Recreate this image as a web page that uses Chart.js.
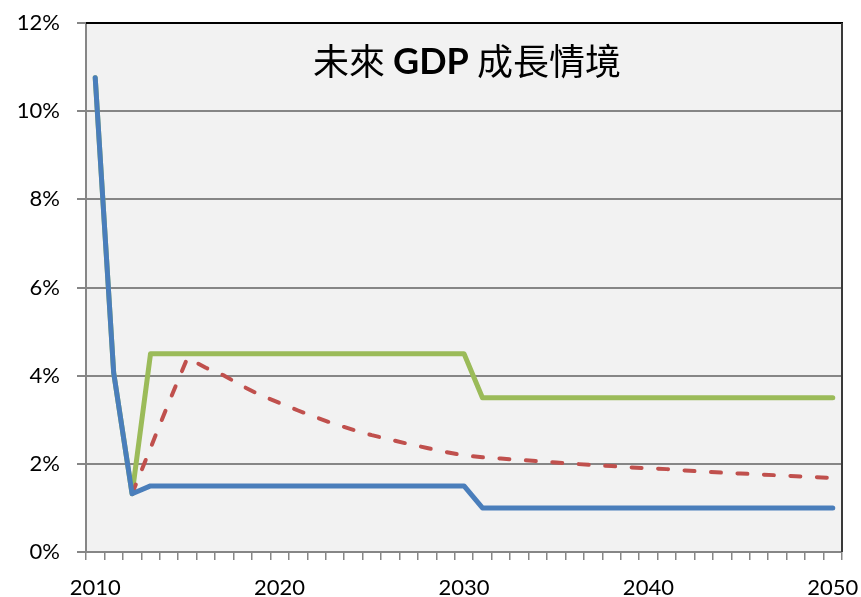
<!DOCTYPE html>
<html>
<head>
<meta charset="utf-8">
<script src="https://cdn.jsdelivr.net/npm/chart.js@4/dist/chart.umd.min.js"></script>
<style>
  html, body { margin: 0; padding: 0; background: #ffffff; }
  #wrap { width: 861px; height: 597px; }
</style>
</head>
<body>
<div id="wrap"><canvas id="c" width="861" height="597"></canvas></div>
<script>
// ---- data ----
const years = [];
for (let y = 2010; y <= 2050; y++) years.push(String(y));

const titleParts = ["未來 ", "GDP", " 成長情境"];

// Low scenario (blue)
const lowGrowth = [10.76, 4.07, 1.32,
  1.5, 1.5, 1.5, 1.5, 1.5, 1.5, 1.5, 1.5, 1.5, 1.5, 1.5, 1.5, 1.5, 1.5, 1.5, 1.5, 1.5, 1.5,
  1.0, 1.0, 1.0, 1.0, 1.0, 1.0, 1.0, 1.0, 1.0, 1.0, 1.0, 1.0, 1.0, 1.0, 1.0, 1.0, 1.0, 1.0, 1.0, 1.0];

// Decaying scenario (red dashed)
const midGrowth = [null, null, 1.32, 2.36, 3.40, 4.40, 4.18, 4.00, 3.76, 3.55, 3.38,
  3.21, 3.05, 2.90, 2.77, 2.65, 2.55, 2.45, 2.36, 2.27, 2.19,
  2.15, 2.12, 2.09, 2.06, 2.03, 2.00, 1.97, 1.95, 1.92, 1.90,
  1.88, 1.85, 1.82, 1.80, 1.78, 1.76, 1.74, 1.72, 1.70, 1.68];

// High scenario (green)
const highGrowth = [10.76, 4.07, 1.32,
  4.5, 4.5, 4.5, 4.5, 4.5, 4.5, 4.5, 4.5, 4.5, 4.5, 4.5, 4.5, 4.5, 4.5, 4.5, 4.5, 4.5, 4.5,
  3.5, 3.5, 3.5, 3.5, 3.5, 3.5, 3.5, 3.5, 3.5, 3.5, 3.5, 3.5, 3.5, 3.5, 3.5, 3.5, 3.5, 3.5, 3.5, 3.5];

const yTicks = [0, 2, 4, 6, 8, 10, 12];

// ---- plugins ----
const plotDecor = {
  id: 'plotDecor',
  beforeDraw(chart) {
    const {ctx, chartArea: a} = chart;
    ctx.save();
    ctx.fillStyle = '#f2f2f2';
    ctx.fillRect(a.left, a.top, a.right - a.left, a.bottom - a.top);
    ctx.restore();
  },
  afterDatasetsDraw(chart) {
    const {ctx, chartArea: a} = chart;
    ctx.save();
    ctx.lineWidth = 2;
    ctx.strokeStyle = '#000000';
    ctx.beginPath();
    ctx.moveTo(a.left, a.top);
    ctx.lineTo(a.right + 1, a.top);
    ctx.stroke();
    ctx.strokeStyle = '#3a3a3a';
    ctx.beginPath();
    ctx.moveTo(a.right, a.top);
    ctx.lineTo(a.right, a.bottom);
    ctx.stroke();
    // title inside plot
    const fonts = ['36px "Noto Sans CJK TC"', 'bold 36px Lato', '36px "Noto Sans CJK TC"'];
    let widths = titleParts.map((t, i) => { ctx.font = fonts[i]; return ctx.measureText(t).width; });
    const total = widths.reduce((s, w) => s + w, 0);
    let x = (a.left + a.right) / 2 - total / 2 + 3;
    const y = a.top + 38;
    ctx.fillStyle = '#000000';
    ctx.textBaseline = 'middle';
    ctx.textAlign = 'left';
    titleParts.forEach((t, i) => {
      ctx.font = fonts[i];
      ctx.fillText(t, x, y + (i === 1 ? 1 : 0));
      x += widths[i];
    });
    ctx.restore();
  }
};

new Chart(document.getElementById('c'), {
  type: 'line',
  data: {
    labels: years,
    datasets: [
      { label: 'low', data: lowGrowth, borderColor: '#4a7ebb', borderWidth: 5,
        pointRadius: 0, tension: 0, borderJoinStyle: 'round', borderCapStyle: 'round' },
      { label: 'mid', data: midGrowth, borderColor: '#c0504d', borderWidth: 4,
        pointRadius: 0, tension: 0, borderDash: [10, 16.5], borderCapStyle: 'round',
        borderJoinStyle: 'round', spanGaps: false },
      { label: 'high', data: highGrowth, borderColor: '#9bbb59', borderWidth: 5,
        pointRadius: 0, tension: 0, borderJoinStyle: 'round', borderCapStyle: 'round' }
    ]
  },
  options: {
    responsive: false,
    animation: false,
    devicePixelRatio: 1,
    layout: { padding: { top: 23, right: 19, left: 0, bottom: 0 } },
    plugins: { legend: { display: false }, title: { display: false }, tooltip: { enabled: false } },
    scales: {
      x: {
        type: 'category',
        offset: true,
        grid: { offset: true, drawOnChartArea: false, drawTicks: true, tickLength: 8,
                color: '#868686', lineWidth: 1.5 },
        border: { display: true, color: '#868686', width: 2 },
        ticks: {
          autoSkip: false, maxRotation: 0, minRotation: 0, padding: 15,
          color: '#000000', font: { family: 'Lato', size: 22 },
          callback: function (val, idx) { return idx % 10 === 0 ? this.getLabelForValue(val) : ''; }
        },
        afterFit(scale) {
          scale.height = 45;
          scale.paddingLeft = 0; scale.paddingRight = 0;
          scale.paddingTop = 0; scale.paddingBottom = 0;
        }
      },
      y: {
        min: 0, max: 12,
        afterBuildTicks(scale) { scale.ticks = yTicks.map(v => ({ value: v })); },
        grid: { color: '#868686', lineWidth: 2, drawTicks: true, tickLength: 9 },
        border: { display: true, color: '#868686', width: 2 },
        ticks: {
          padding: 17, color: '#000000', font: { family: 'Lato', size: 22 },
          callback: v => v + '%'
        },
        afterFit(scale) {
          scale.width = 86;
          scale.paddingLeft = 0; scale.paddingRight = 0;
          scale.paddingTop = 0; scale.paddingBottom = 0;
        }
      }
    }
  },
  plugins: [plotDecor]
});
</script>
</body>
</html>
